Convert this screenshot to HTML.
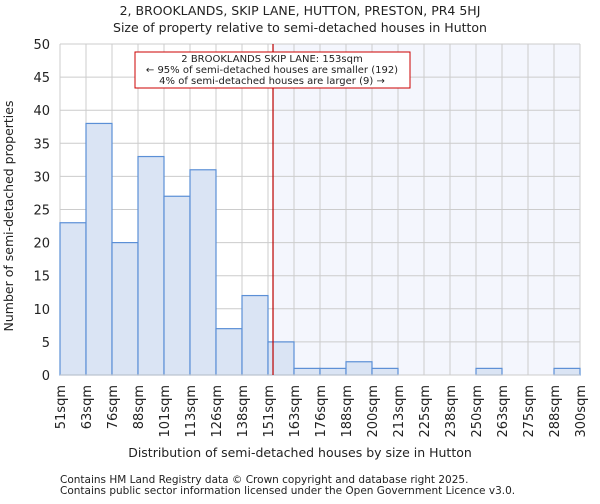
<!DOCTYPE html>
<html><head><meta charset="utf-8"><style>
body{margin:0;background:#fff;font-family:"DejaVu Sans","Liberation Sans",sans-serif}
svg text{font-family:"DejaVu Sans","Liberation Sans",sans-serif;fill:#222}
</style></head><body>
<svg id="c" width="600" height="500" xmlns="http://www.w3.org/2000/svg">
<text x="300" y="15" text-anchor="middle" font-size="12.5">2, BROOKLANDS, SKIP LANE, HUTTON, PRESTON, PR4 5HJ</text>
<text x="300" y="32" text-anchor="middle" font-size="12.5">Size of property relative to semi-detached houses in Hutton</text>
<g id="plot"></g>
<text x="300" y="457" text-anchor="middle" font-size="12.5">Distribution of semi-detached houses by size in Hutton</text>
<text transform="translate(13,216) rotate(-90)" text-anchor="middle" font-size="12.5">Number of semi-detached properties</text>
<text x="60" y="483" font-size="10.5" fill="#444">Contains HM Land Registry data © Crown copyright and database right 2025.</text>
<text x="60" y="494" font-size="10.5" fill="#444">Contains public sector information licensed under the Open Government Licence v3.0.</text>
</svg>
<script>
const binLabels=["51sqm","63sqm","76sqm","88sqm","101sqm","113sqm","126sqm","138sqm","151sqm","163sqm","176sqm","188sqm","200sqm","213sqm","225sqm","238sqm","250sqm","263sqm","275sqm","288sqm","300sqm"];
const counts=[23,38,20,33,27,31,7,12,5,1,1,2,1,0,0,0,1,0,0,1];
const yTicks=[0,5,10,15,20,25,30,35,40,45,50];
const subjectSize=153;
const xMin=51,xMax=300,yMax=50;
const L=60,R=580,T=44,B=375;
const NS="http://www.w3.org/2000/svg";
const g=document.getElementById('plot');
const xs=v=>L+(v-xMin)/(xMax-xMin)*(R-L);
const xb=i=>L+i*(R-L)/counts.length;
const ys=v=>B-v/yMax*(B-T);
function mk(t,a){const e=document.createElementNS(NS,t);for(const k in a)e.setAttribute(k,a[k]);g.appendChild(e);return e;}
const sx=xs(subjectSize);
let e=mk('rect',{x:sx,y:T,width:R-sx,height:B-T,fill:'#f4f6fd'});


yTicks.forEach(t=>{
 let l=mk('line',{x1:L,x2:R,y1:ys(t),y2:ys(t),stroke:'#ccc','stroke-width':1});
 
 
 let tx=mk('text',{x:L-10,y:ys(t)+5,'text-anchor':'end','font-size':13});
 tx.textContent=t;
 
 
});
binLabels.forEach((s,i)=>{
 const x=xb(i);
 let l=mk('line',{x1:x,x2:x,y1:T,y2:B,stroke:'#ccc','stroke-width':1});
 
 
 let tx=mk('text',{transform:`translate(${x+5},${B+10}) rotate(-90)`,'text-anchor':'end','font-size':13});
 tx.textContent=s;
 
 
});
counts.forEach((c,i)=>{
 if(c<=0)return;
 let r=mk('rect',{x:xb(i),y:ys(c),width:xb(i+1)-xb(i),height:B-ys(c),fill:'#dae4f4',stroke:'#5b8fd6','stroke-width':1.2});
 
 
});
let ax=mk('line',{x1:L,x2:R,y1:B,y2:B,stroke:'#ccc'});


let ml=mk('line',{x1:sx,x2:sx,y1:T,y2:B,stroke:'#b00','stroke-width':1.2});


let bx=mk('rect',{x:135,y:52,width:275,height:36,fill:'#fff',stroke:'#c00','stroke-width':1});


["2 BROOKLANDS SKIP LANE: 153sqm","← 95% of semi-detached houses are smaller (192)","4% of semi-detached houses are larger (9) →"].forEach((s,i)=>{
 let t=mk('text',{x:272,y:62+i*11,'text-anchor':'middle','font-size':10});
 t.textContent=s;
 
 
});
</script>
</body></html>
